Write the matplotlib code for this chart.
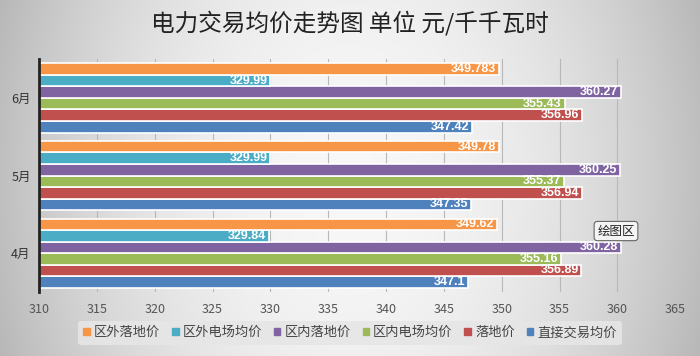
import numpy as np
import matplotlib.pyplot as plt

plt.rcParams['font.family'] = ['Noto Sans CJK SC', 'DejaVu Sans']

# 数据
months = ['4月', '5月', '6月']
series = ['直接交易均价', '落地价', '区内电场均价', '区内落地价', '区外电场均价', '区外落地价']
direct = [347.1, 347.35, 347.42]
landing = [356.89, 356.94, 356.96]
in_plant = [355.16, 355.37, 355.43]
in_landing = [360.28, 360.25, 360.27]
out_plant = [329.84, 329.99, 329.99]
out_landing = [349.62, 349.78, 349.783]
labels_out_landing = ['349.62', '349.78', '349.783']
colors = ['#4F81BD', '#C0504D', '#9BBB59', '#8064A2', '#4BACC6', '#F79646']

values = [direct, landing, in_plant, in_landing, out_plant, out_landing]

fig = plt.figure(figsize=(7, 3.56), dpi=100)

# 背景渐变
bg = fig.add_axes([0, 0, 1, 1])
xx = np.linspace(-1, 1, 400)
yy = np.linspace(-1, 1, 200)
X, Y = np.meshgrid(xx, yy)
shade = 0.97 - 0.22 * X**2 - 0.03 * Y**2
img = np.dstack([shade, shade, shade])
bg.imshow(img, aspect='auto', extent=[0, 1, 0, 1])
bg.axis('off')

ax = fig.add_axes([0.0557, 0.18, 0.909, 0.654])
ax.patch.set_alpha(0)

slot = 0.892 / 6
y = np.arange(len(months))
for i, (vals, c) in enumerate(zip(values, colors)):
    pos = y - 0.446 + slot * (i + 0.5)
    w = [v - 310 for v in vals]
    ax.barh(pos, w, left=310, height=slot, color=c, edgecolor='white', linewidth=1.2, zorder=3)
    for j, v in enumerate(vals):
        txt = labels_out_landing[j] if i == 5 else f'{v:g}'
        ax.text(v - 0.25, pos[j], txt, ha='right', va='center', fontsize=9,
                color='white', family='Liberation Sans', fontweight='bold', zorder=4)

ax.set_xlim(310, 365)
ax.set_ylim(-0.5, 2.5)
ax.set_xticks(np.arange(310, 366, 5))
ax.set_yticks(y)
ax.set_yticklabels(months, fontsize=9, color='#333333')
ax.tick_params(axis='x', length=0, labelsize=9, labelcolor='#555555', pad=8)
ax.tick_params(axis='y', length=0, pad=6)
ax.grid(axis='x', color='#b8b8b8', linewidth=0.8, zorder=0)
for s in ['top', 'right', 'bottom']:
    ax.spines[s].set_visible(False)
ax.spines['left'].set_color('#222222')
ax.spines['left'].set_linewidth(2)
ax.spines['left'].set_zorder(5)

fig.text(0.5, 0.935, '电力交易均价走势图 单位 元/千千瓦时', ha='center', va='center',
         fontsize=17, color='#222222')

handles = [plt.Rectangle((0, 0), 1, 1, color=c) for c in colors[::-1]]
leg = fig.legend(handles, series[::-1], loc='center', bbox_to_anchor=(0.5, 0.065), ncol=6,
                 fontsize=9.5, frameon=True, handlelength=0.5, handleheight=0.5,
                 handletextpad=0.3, columnspacing=0.9, borderpad=0.4)
leg.get_frame().set_facecolor('#e6e6e6')
leg.get_frame().set_edgecolor('none')
leg.get_frame().set_alpha(0.9)
for t in leg.get_texts():
    t.set_color('#444444')

fig.text(0.88, 0.351, '绘图区', ha='center', va='center', fontsize=9, color='#222222',
         bbox=dict(boxstyle='round,pad=0.25', facecolor='#f4f4f4', edgecolor='#666666', linewidth=0.8))

fig.savefig('out.png', dpi=100)
